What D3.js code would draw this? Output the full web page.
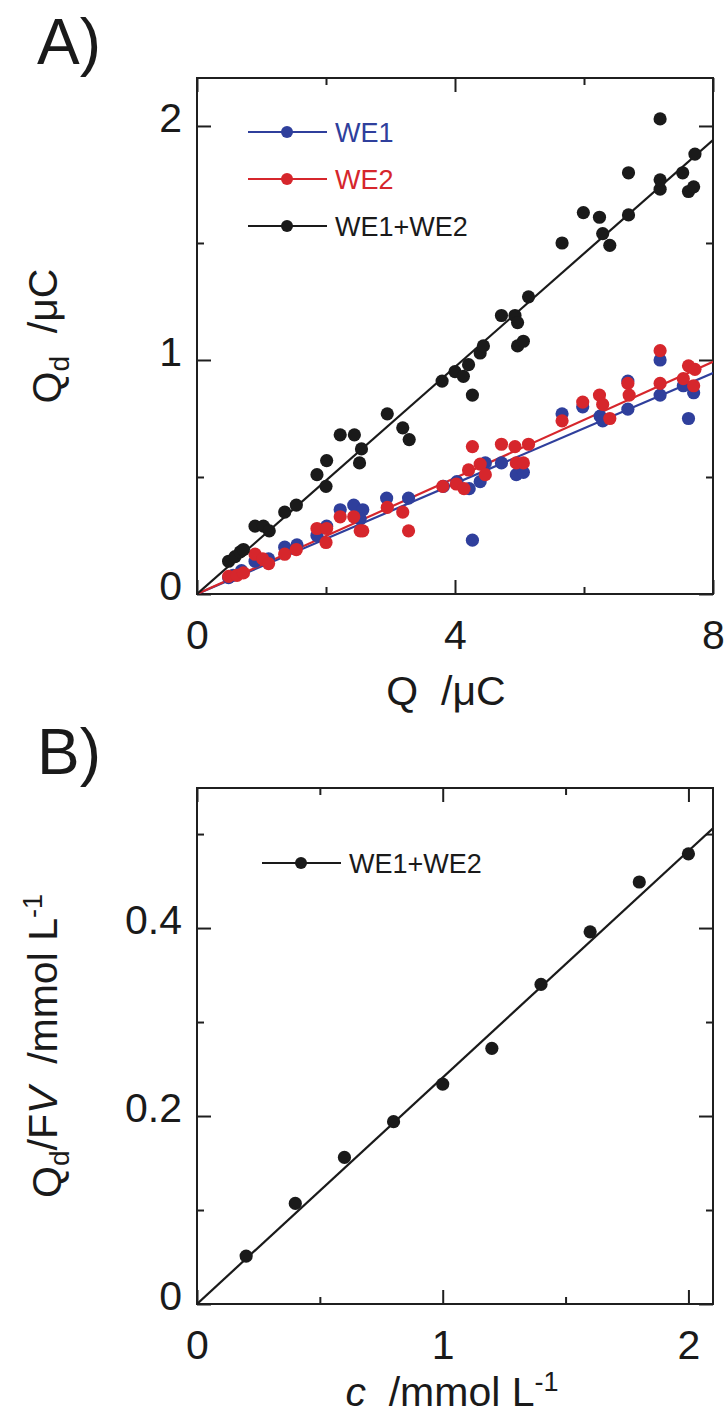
<!DOCTYPE html>
<html>
<head>
<meta charset="utf-8">
<script src="https://cdn.jsdelivr.net/npm/d3@7"></script>
<style>
  body { margin: 0; background: #fff; }
  text { font-family: "Liberation Sans", Arial, sans-serif; fill: #1a1a1a; white-space: pre; }
</style>
</head>
<body>
<svg id="chart" width="726" height="1419"></svg>
<script>
// ---- Panel A: deposited charge Qd against passed charge Q (µC) ----
const we1Points = [
  [0.49,0.07],[0.56,0.08],[0.69,0.10],[0.90,0.14],[1.11,0.15],[1.36,0.20],[1.55,0.21],
  [1.86,0.25],[2.01,0.29],[2.22,0.36],[2.43,0.38],[2.57,0.36],[2.53,0.32],[2.94,0.41],
  [3.28,0.41],[3.82,0.46],[4.03,0.48],[4.22,0.45],[4.27,0.23],[4.39,0.48],[4.47,0.56],
  [4.72,0.56],[4.95,0.51],[5.06,0.52],[5.66,0.77],[5.98,0.80],[6.25,0.76],[6.29,0.74],
  [6.68,0.79],[6.68,0.91],[7.18,0.85],[7.18,1.00],[7.54,0.89],[7.70,0.86],[7.62,0.75]
];
const we2Points = [
  [0.49,0.075],[0.62,0.08],[0.72,0.09],[0.90,0.17],[1.02,0.15],[1.11,0.13],[1.36,0.17],
  [1.54,0.19],[1.86,0.28],[2.01,0.28],[2.00,0.22],[2.22,0.33],[2.43,0.33],[2.53,0.27],
  [2.57,0.27],[2.95,0.37],[3.19,0.35],[3.28,0.27],[3.81,0.46],[4.02,0.47],[4.14,0.45],
  [4.21,0.53],[4.27,0.63],[4.39,0.555],[4.47,0.51],[4.72,0.64],[4.93,0.63],[4.95,0.56],
  [5.06,0.56],[5.14,0.64],[5.66,0.74],[5.98,0.82],[6.24,0.85],[6.29,0.81],[6.40,0.75],
  [6.68,0.90],[6.70,0.85],[7.18,0.90],[7.18,1.04],[7.54,0.92],[7.62,0.975],[7.72,0.96],
  [7.70,0.89]
];
const sumPoints = [
  [0.49,0.14],[0.59,0.16],[0.67,0.18],[0.72,0.19],[0.90,0.29],[1.03,0.29],[1.12,0.27],
  [1.36,0.35],[1.54,0.38],[1.86,0.51],[2.01,0.57],[2.00,0.46],[2.22,0.68],[2.44,0.68],
  [2.55,0.62],[2.52,0.56],[2.95,0.77],[3.19,0.71],[3.29,0.66],[3.80,0.91],[4.00,0.95],
  [4.13,0.93],[4.21,0.98],[4.27,0.85],[4.39,1.03],[4.44,1.06],[4.72,1.19],[4.93,1.19],
  [4.97,1.16],[4.97,1.06],[5.06,1.08],[5.14,1.27],[5.66,1.50],[5.99,1.63],[6.24,1.61],
  [6.29,1.54],[6.40,1.49],[6.69,1.62],[6.69,1.80],[7.18,1.73],[7.18,1.77],[7.18,2.03],
  [7.53,1.80],[7.62,1.72],[7.70,1.74],[7.72,1.88]
];
// slopes of the straight-line fits through the origin
const slopeWE1 = 0.118;
const slopeWE2 = 0.124;
const slopeSum = 0.2425;

const xTicksA = [0, 4, 8];
const xMinorA = [2, 6];
const yTicksA = [0, 1, 2];
const yMinorA = [0.5, 1.5];
const xLabelsA = ["0", "4", "8"];
const yLabelsA = ["0", "1", "2"];

// ---- Panel B: Qd/FV against concentration c ----
const concValues = [0.2, 0.4, 0.6, 0.8, 1.0, 1.2, 1.4, 1.6, 1.8, 2.0];
const qdfvValues = [0.051, 0.107, 0.156, 0.194, 0.234, 0.272, 0.340, 0.396, 0.449, 0.479];
const slopeB = 0.241;

const xTicksB = [0, 1, 2];
const xMinorB = [0.5, 1.5];
const yTicksB = [0, 0.2, 0.4];
const yMinorB = [0.1, 0.3, 0.5];
const xLabelsB = ["0", "1", "2"];
const yLabelsB = ["0", "0.2", "0.4"];

const seriesNamesA = ["WE1", "WE2", "WE1+WE2"];
const seriesNamesB = ["WE1+WE2"];

const BLUE = "#2f3f9c", RED = "#d6262c", BLACK = "#1a1a1a", INK = "#1f1f1f";
const svg = d3.select("#chart");
let clipId = 0;

function drawPanel(cfg) {
  const g = svg.append("g");
  const x = d3.scaleLinear().domain(cfg.xDomain).range([cfg.left, cfg.right]);
  const y = d3.scaleLinear().domain(cfg.yDomain).range([cfg.bottom, cfg.top]);

  const styleAxis = (sel, fontSize) => {
    sel.select(".domain").remove();
    sel.attr("font-family", null).attr("font-size", null);
    sel.selectAll(".tick line").attr("stroke", INK).attr("stroke-width", 2);
    sel.selectAll(".tick text").style("font-size", fontSize + "px").attr("fill", BLACK);
  };
  const axis = (maker, scale, values, size, tf, transform, pad) => {
    const a = maker(scale).tickValues(values).tickSize(-size).tickPadding(pad || 3)
      .tickFormat(tf || (() => ""));
    const s = g.append("g").attr("transform", transform).call(a);
    styleAxis(s, 41);
    return s;
  };
  const xl = (d) => cfg.xLabels[cfg.xTicks.indexOf(d)];
  const yl = (d) => cfg.yLabels[cfg.yTicks.indexOf(d)];

  axis(d3.axisBottom, x, cfg.xTicks, 14, xl, `translate(0,${cfg.bottom})`, 26);
  axis(d3.axisBottom, x, cfg.xMinor, 7, null, `translate(0,${cfg.bottom})`);
  axis(d3.axisTop, x, cfg.xTicks, 14, null, `translate(0,${cfg.top})`);
  axis(d3.axisTop, x, cfg.xMinor, 7, null, `translate(0,${cfg.top})`);
  const left = axis(d3.axisLeft, y, cfg.yTicks, 14, yl, `translate(${cfg.left},0)`, 15);
  left.selectAll(".tick text").attr("dy", "0.13em");
  axis(d3.axisLeft, y, cfg.yMinor, 7, null, `translate(${cfg.left},0)`);
  axis(d3.axisRight, y, cfg.yTicks, 14, null, `translate(${cfg.right},0)`);
  axis(d3.axisRight, y, cfg.yMinor, 7, null, `translate(${cfg.right},0)`);

  // frame
  g.append("rect")
    .attr("x", cfg.left).attr("y", cfg.top)
    .attr("width", cfg.right - cfg.left).attr("height", cfg.bottom - cfg.top)
    .attr("fill", "none").attr("stroke", INK).attr("stroke-width", 2);

  const id = "clip" + (clipId++);
  g.append("clipPath").attr("id", id).append("rect")
    .attr("x", cfg.left).attr("y", cfg.top)
    .attr("width", cfg.right - cfg.left).attr("height", cfg.bottom - cfg.top);
  const plot = g.append("g").attr("clip-path", `url(#${id})`);

  const line = d3.line().x(d => x(d[0])).y(d => y(d[1]));
  const xEnd = cfg.xDomain[1];
  cfg.series.forEach(s => {
    plot.append("path")
      .attr("d", line([[0, 0], [xEnd, s.slope * xEnd]]))
      .attr("fill", "none").attr("stroke", s.color).attr("stroke-width", 2.2);
  });
  cfg.series.forEach(s => {
    plot.append("g").selectAll("circle").data(s.points).join("circle")
      .attr("cx", d => x(d[0])).attr("cy", d => y(d[1]))
      .attr("r", 6.6).attr("fill", s.color);
  });

  // legend
  cfg.series.forEach((s, i) => {
    const ly = cfg.legend.y + i * cfg.legend.step;
    const lg = g.append("g");
    lg.append("line").attr("x1", cfg.legend.x).attr("x2", cfg.legend.x + 79)
      .attr("y1", ly).attr("y2", ly).attr("stroke", s.color).attr("stroke-width", 2.2);
    lg.append("circle").attr("cx", cfg.legend.x + 39).attr("cy", ly).attr("r", 6).attr("fill", s.color);
    lg.append("text").attr("x", cfg.legend.x + 87).attr("y", ly).attr("dy", "0.36em")
      .style("font-size", "27px").style("fill", s.textColor).text(s.name);
  });
  return { x, y };
}

drawPanel({
  left: 197, right: 713, top: 78, bottom: 594,
  xDomain: [0, 8], yDomain: [0, 2.205],
  xTicks: xTicksA, xMinor: xMinorA, yTicks: yTicksA, yMinor: yMinorA,
  xLabels: xLabelsA, yLabels: yLabelsA,
  legend: { x: 248, y: 132, step: 47 },
  series: [
    { name: seriesNamesA[0], points: we1Points, slope: slopeWE1, color: BLUE, textColor: BLUE },
    { name: seriesNamesA[1], points: we2Points, slope: slopeWE2, color: RED, textColor: RED },
    { name: seriesNamesA[2], points: sumPoints, slope: slopeSum, color: BLACK, textColor: BLACK }
  ]
});

drawPanel({
  left: 197, right: 713, top: 788, bottom: 1304,
  xDomain: [0, 2.1], yDomain: [0, 0.549],
  xTicks: xTicksB, xMinor: xMinorB, yTicks: yTicksB, yMinor: yMinorB,
  xLabels: xLabelsB, yLabels: yLabelsB,
  legend: { x: 262, y: 863, step: 0 },
  series: [
    { name: seriesNamesB[0], points: concValues.map((c, i) => [c, qdfvValues[i]]),
      slope: slopeB, color: BLACK, textColor: BLACK }
  ]
});

// panel letters
svg.append("text").attr("x", 37).attr("y", 64).style("font-size", "64px").text("A)");
svg.append("text").attr("x", 37).attr("y", 774).style("font-size", "64px").text("B)");

// axis titles
const fs = "41px";
const tA = svg.append("text").attr("x", 446).attr("y", 705).attr("text-anchor", "middle").style("font-size", fs);
tA.append("tspan").text("Q  /μC");

const yA = svg.append("text").attr("transform", "translate(61,336) rotate(-90)")
  .attr("text-anchor", "middle").style("font-size", fs);
yA.append("tspan").text("Q");
yA.append("tspan").attr("dy", "0.3em").style("font-size", "28px").text("d");
yA.append("tspan").attr("dy", "-0.3em").text("  /μC");

const tB = svg.append("text").attr("x", 452).attr("y", 1406).attr("text-anchor", "middle").style("font-size", fs);
tB.append("tspan").style("font-style", "italic").text("c");
tB.append("tspan").text("  /mmol L");
tB.append("tspan").attr("dy", "-0.55em").style("font-size", "27px").text("-1");

const yB = svg.append("text").attr("transform", "translate(61,1046) rotate(-90)")
  .attr("text-anchor", "middle").style("font-size", fs);
yB.append("tspan").text("Q");
yB.append("tspan").attr("dy", "0.3em").style("font-size", "28px").text("d");
yB.append("tspan").attr("dy", "-0.3em").text("/F");
yB.append("tspan").style("font-style", "italic").text("V");
yB.append("tspan").text("  /mmol L");
yB.append("tspan").attr("dy", "-0.55em").style("font-size", "27px").text("-1");
</script>
</body>
</html>
